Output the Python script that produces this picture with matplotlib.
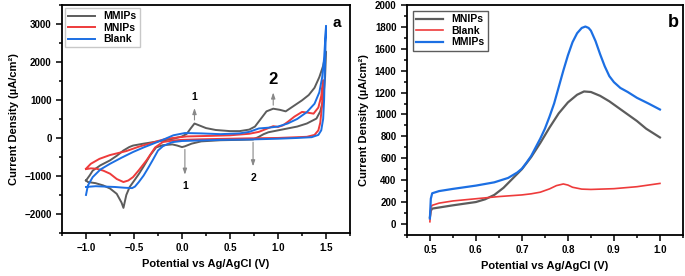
import numpy as np
import matplotlib
matplotlib.use('Agg')
import matplotlib.pyplot as plt
from matplotlib.ticker import MultipleLocator

plt.rcParams['font.family'] = ['Liberation Sans', 'DejaVu Sans']
plt.rcParams['font.weight'] = 'bold'
plt.rcParams['axes.labelweight'] = 'bold'

GRAY = '#5c5c5c'; RED = '#ee3b3b'; BLUE = '#1c6fe3'

# ---- panel a: cyclic voltammograms (forward then return branch)
mmip_a_x = [-1.0, -0.96, -0.93, -0.85, -0.75, -0.68, -0.61, -0.55, -0.51, -0.40, -0.30, -0.20, -0.09, 0.0,
            0.05, 0.09, 0.13, 0.18, 0.25, 0.35, 0.5, 0.6, 0.7, 0.76, 0.82, 0.88, 0.95, 1.02, 1.08, 1.15,
            1.25, 1.32, 1.38, 1.43, 1.47, 1.5,
            1.49, 1.47, 1.44, 1.40, 1.3, 1.2, 1.1, 1.0, 0.9, 0.85, 0.8, 0.74, 0.6, 0.4, 0.2, 0.1, 0.03,
            0.0, -0.05, -0.1, -0.2, -0.27, -0.33, -0.4, -0.45, -0.5, -0.545, -0.58, -0.61, -0.63, -0.68,
            -0.75, -0.82, -0.9, -0.98, -1.0]
mmip_a_y = [-1120, -980, -860, -720, -590, -470, -330, -240, -200, -150, -110, -70, -20, 40,
            110, 250, 380, 330, 260, 210, 180, 180, 220, 300, 500, 700, 770, 740, 700, 820,
            990, 1130, 1320, 1600, 1900, 2270,
            1600, 1000, 700, 510, 380, 300, 250, 200, 150, 100, 30, -40, -50, -60, -90, -150, -220,
            -240, -200, -170, -190, -250, -450, -750, -950, -1130, -1290, -1500, -1840, -1700, -1470,
            -1330, -1250, -1190, -1160, -1120]

mnip_a_x = [-1.0, -0.95, -0.86, -0.75, -0.58, -0.45, -0.34, -0.25, -0.16, 0.05, 0.3, 0.5, 0.7, 0.8,
            0.9, 0.95, 1.0, 1.05, 1.1, 1.17, 1.25, 1.3, 1.37, 1.42, 1.45, 1.47,
            1.46, 1.44, 1.42, 1.38, 1.3, 1.1, 1.0, 0.7, 0.5, 0.2, 0.0, -0.1, -0.2, -0.28, -0.37, -0.45,
            -0.51, -0.56, -0.61, -0.68, -0.75, -0.82, -0.89, -0.95, -1.0]
mnip_a_y = [-810, -680, -550, -450, -345, -230, -150, -80, -20, 40, 55, 70, 110, 160,
            260, 310, 290, 330, 420, 560, 685, 670, 640, 800, 1100, 1520,
            900, 400, 200, 80, 30, 10, 0, -10, -20, -35, -50, -70, -107, -250, -590, -850,
            -1030, -1120, -1160, -1080, -940, -860, -810, -800, -820]

blank_a_x = [-1.0, -0.98, -0.93, -0.85, -0.75, -0.63, -0.51, -0.40, -0.30, -0.2, -0.09, 0.03, 0.2, 0.4,
             0.6, 0.7, 0.8, 0.9, 1.0, 1.1, 1.2, 1.3, 1.38, 1.43, 1.46, 1.48, 1.5,
             1.49, 1.48, 1.47, 1.45, 1.42, 1.35, 1.2, 1.0, 0.7, 0.4, 0.0, -0.1, -0.15, -0.2, -0.25, -0.3,
             -0.35, -0.4, -0.45, -0.49, -0.52, -0.6, -0.7, -0.8, -0.9, -1.0]
blank_a_y = [-1500, -1250, -1030, -830, -680, -520, -370, -250, -150, -50, 70, 130, 120, 100,
             120, 160, 250, 270, 300, 380, 500, 680, 900, 1200, 1600, 2100, 2950,
             2000, 1000, 500, 200, 80, 20, 0, -20, -40, -50, -80, -110, -160, -220, -330, -560,
             -780, -990, -1160, -1280, -1320, -1310, -1290, -1280, -1270, -1290]

# ---- panel b
mnip_b_x = [0.5, 0.502, 0.505, 0.52, 0.55, 0.6, 0.62, 0.64, 0.66, 0.68, 0.70, 0.72, 0.74, 0.76, 0.78,
            0.80, 0.82, 0.835, 0.85, 0.87, 0.89, 0.91, 0.93, 0.95, 0.97, 1.0]
mnip_b_y = [60, 120, 140, 150, 170, 200, 225, 265, 330, 415, 500, 610, 740, 880, 1010,
            1110, 1180, 1210, 1205, 1170, 1120, 1060, 1000, 940, 870, 790]

blank_b_x = [0.5, 0.502, 0.505, 0.52, 0.55, 0.6, 0.65, 0.7, 0.72, 0.74, 0.76, 0.775, 0.79, 0.80,
             0.81, 0.83, 0.85, 0.9, 0.95, 1.0]
blank_b_y = [20, 150, 170, 190, 210, 230, 250, 265, 275, 290, 320, 350, 365, 355,
             335, 318, 315, 322, 340, 370]

mmip_b_x = [0.5, 0.502, 0.505, 0.52, 0.55, 0.6, 0.64, 0.67, 0.68, 0.69, 0.70, 0.71, 0.72, 0.73,
            0.74, 0.75, 0.76, 0.77, 0.78, 0.79, 0.80, 0.81, 0.82, 0.83, 0.838, 0.845, 0.85, 0.86,
            0.87, 0.88, 0.89, 0.90, 0.914, 0.93, 0.95, 0.975, 1.0]
mmip_b_y = [50, 230, 280, 300, 320, 350, 380, 420, 445, 470, 505, 560, 620, 700,
            780, 870, 980, 1100, 1250, 1400, 1540, 1660, 1742, 1790, 1803, 1790, 1765, 1670,
            1550, 1440, 1350, 1295, 1242, 1205, 1152, 1100, 1045]


def style_axes(ax):
    for s in ax.spines.values():
        s.set_linewidth(1.3)
    ax.tick_params(which='both', direction='out', top=False, right=False, labelsize=7, width=1.1)
    ax.tick_params(which='major', length=4)
    ax.tick_params(which='minor', length=2.5)


fig = plt.figure(figsize=(6.85, 2.76), dpi=100)
ax1 = fig.add_axes([0.0905, 0.156, 0.4205, 0.826])
ax2 = fig.add_axes([0.594, 0.149, 0.403, 0.833])

ax1.plot(mmip_a_x, mmip_a_y, color=GRAY, lw=1.4, label='MMIPs')
ax1.plot(mnip_a_x, mnip_a_y, color=RED, lw=1.4, label='MNIPs')
ax1.plot(blank_a_x, blank_a_y, color=BLUE, lw=1.4, label='Blank')
ax1.set_xlim(-1.25, 1.75); ax1.set_ylim(-2500, 3500)
ax1.xaxis.set_major_locator(MultipleLocator(0.5)); ax1.xaxis.set_minor_locator(MultipleLocator(0.25))
ax1.yaxis.set_major_locator(MultipleLocator(1000)); ax1.yaxis.set_minor_locator(MultipleLocator(500))
ax1.set_xlabel('Potential vs Ag/AgCl (V)', fontsize=8)
ax1.set_ylabel('Current Density (µA/cm²)', fontsize=8)
style_axes(ax1)
ax1.legend(loc='upper left', fontsize=7.5, frameon=True, fancybox=False, edgecolor='#bbbbbb',
           handlelength=2.6, borderaxespad=0.3, labelspacing=0.15, borderpad=0.3)
ax1.text(0.97, 0.95, 'a', transform=ax1.transAxes, fontsize=11, fontweight='bold', ha='right', va='top')

arrow_kw = dict(arrowstyle='-|>,head_length=0.35,head_width=0.12', color='#888888', lw=0.8)
ax1.annotate('', xy=(0.13, 860), xytext=(0.13, 400), arrowprops=arrow_kw)
ax1.text(0.13, 950, '1', ha='center', va='bottom', fontsize=7.5)
ax1.annotate('', xy=(0.95, 1270), xytext=(0.95, 790), arrowprops=arrow_kw)
ax1.text(0.95, 1330, '2', ha='center', va='bottom', fontsize=12)
ax1.annotate('', xy=(0.03, -1040), xytext=(0.03, -230), arrowprops=arrow_kw)
ax1.text(0.03, -1130, '1', ha='center', va='top', fontsize=7.5)
ax1.annotate('', xy=(0.74, -820), xytext=(0.74, -40), arrowprops=arrow_kw)
ax1.text(0.74, -910, '2', ha='center', va='top', fontsize=7.5)

ax2.plot(mnip_b_x, mnip_b_y, color=GRAY, lw=1.6, label='MNIPs')
ax2.plot(blank_b_x, blank_b_y, color=RED, lw=1.2, label='Blank')
ax2.plot(mmip_b_x, mmip_b_y, color=BLUE, lw=1.6, label='MMIPs')
ax2.set_xlim(0.45, 1.05); ax2.set_ylim(-100, 2000)
ax2.xaxis.set_major_locator(MultipleLocator(0.1)); ax2.xaxis.set_minor_locator(MultipleLocator(0.05))
ax2.yaxis.set_major_locator(MultipleLocator(200)); ax2.yaxis.set_minor_locator(MultipleLocator(100))
ax2.set_xlabel('Potential vs Ag/AgCl (V)', fontsize=8)
ax2.set_ylabel('Current Density (µA/cm²)', fontsize=8)
style_axes(ax2)
ax2.legend(loc='upper left', fontsize=7.5, frameon=True, fancybox=False, edgecolor='#333333',
           handlelength=2.6, borderaxespad=0.6, labelspacing=0.15, borderpad=0.3)
ax2.text(0.985, 0.96, 'b', transform=ax2.transAxes, fontsize=13, fontweight='bold', ha='right', va='top')

fig.savefig('out.png', dpi=100)
